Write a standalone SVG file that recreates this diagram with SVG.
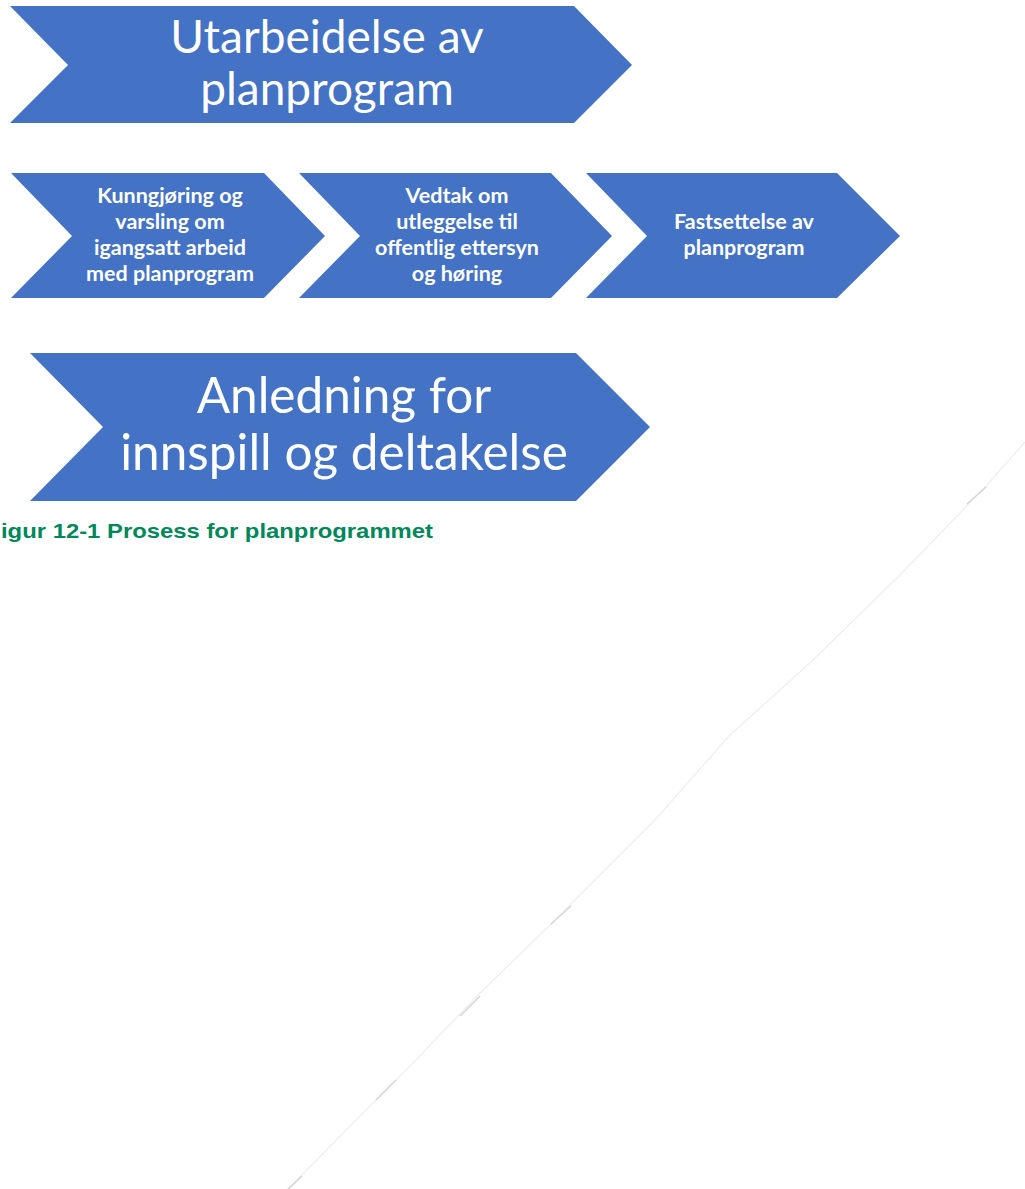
<svg xmlns="http://www.w3.org/2000/svg" width="1025" height="1189" viewBox="0 0 1025 1189">
<style>
.chev{fill:#4472C4;}
.big{font-family:Lato,"Open Sans",sans-serif;fill:#fff;text-anchor:middle;}
.sm{font-family:Lato,"Open Sans",sans-serif;font-weight:bold;font-size:21.5px;fill:#fff;text-anchor:middle;}
.cap{font-family:"Liberation Sans",Arial,sans-serif;font-weight:bold;font-size:21px;fill:#00875A;}
</style>
<rect width="1025" height="1189" fill="#fff"/>
<g id="n-utarbeidelse">
<polygon class="chev" points="10,6 574,6 632,65 574,123 10,123 68,65"/>
<text class="big" font-size="46" x="327" y="53">Utarbeidelse av</text>
<text class="big" font-size="46" x="327" y="105">planprogram</text>
</g>
<g id="n-kunngjoring">
<polygon class="chev" points="11,173 264,173 325,236 264,298 11,298 72,236"/>
<text class="sm" x="170" y="203">Kunngjøring og</text>
<text class="sm" x="170" y="229">varsling om</text>
<text class="sm" x="170" y="255">igangsatt arbeid</text>
<text class="sm" x="170" y="281">med planprogram</text>
</g>
<g id="n-vedtak">
<polygon class="chev" points="299,173 551,173 612,236 551,298 299,298 360,236"/>
<text class="sm" x="457" y="203">Vedtak om</text>
<text class="sm" x="457" y="229">utleggelse til</text>
<text class="sm" x="457" y="255">offentlig ettersyn</text>
<text class="sm" x="457" y="281">og høring</text>
</g>
<g id="n-fastsettelse">
<polygon class="chev" points="586,173 837,173 900,236 837,298 586,298 647,236"/>
<text class="sm" x="744" y="229">Fastsettelse av</text>
<text class="sm" x="744" y="255">planprogram</text>
</g>
<g id="n-anledning">
<polygon class="chev" points="30,353 576,353 650,427 576,501 30,501 103,427"/>
<text class="big" font-size="49.5" x="344" y="413">Anledning for</text>
<text class="big" font-size="49.5" x="344" y="470">innspill og deltakelse</text>
</g>
<text class="cap" x="1" y="538" textLength="432" lengthAdjust="spacingAndGlyphs">igur 12-1 Prosess for planprogrammet</text>
<g id="connectors">
<polyline points="1025,442 986,486 902,573 811,662 729,736 655,820 551,924 477,996 413,1063 376,1100 282,1195" fill="none" stroke="#eeeeee" stroke-width="1.2"/>
<g stroke="#d6d6d6" stroke-width="1.5" fill="none">
<line x1="967" y1="504" x2="986" y2="487"/>
<line x1="551" y1="924" x2="571" y2="906"/>
<line x1="460" y1="1016" x2="480" y2="996"/>
<line x1="376" y1="1100" x2="396" y2="1080"/>
<line x1="282" y1="1195" x2="302" y2="1176"/>
</g>
</g>
</svg>
